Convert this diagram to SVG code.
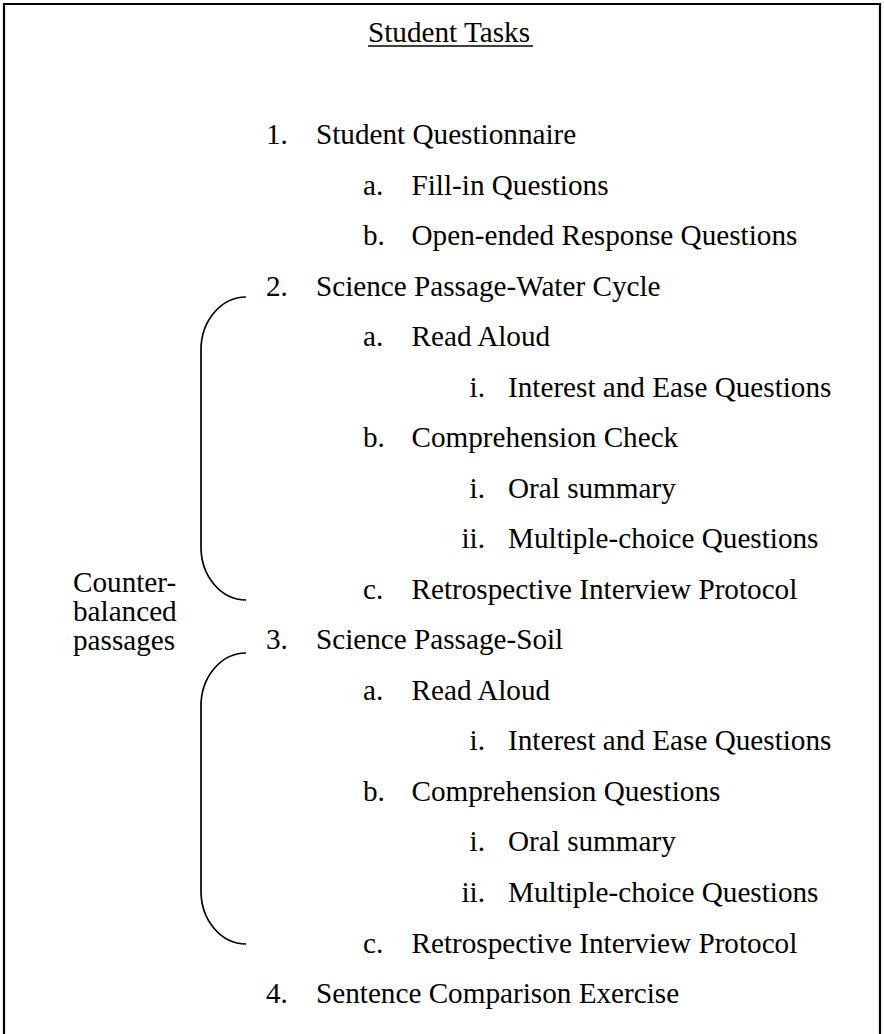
<svg xmlns="http://www.w3.org/2000/svg" width="884" height="1034" viewBox="0 0 884 1034">
<style>
text{font-family:"Liberation Serif","Times New Roman",serif;font-size:29.2px;fill:#000}
.r{text-anchor:end}
.br{fill:none;stroke:#000;stroke-width:1.7}
</style>
<rect width="884" height="1034" fill="#fff"/>
<path d="M4,1034 V4 H880 V1034" fill="none" stroke="#000" stroke-width="2.2"/>
<g id="title">
<text x="368" y="42">Student Tasks</text>
<line x1="368" y1="46" x2="533" y2="46" stroke="#000" stroke-width="1.6"/>
</g>
<g id="item1"><text x="266" y="144">1.</text><text x="316" y="144">Student Questionnaire</text></g>
<g id="item1a"><text x="363" y="194.5">a.</text><text x="411.5" y="194.5">Fill-in Questions</text></g>
<g id="item1b"><text x="363" y="245">b.</text><text x="411.5" y="245">Open-ended Response Questions</text></g>
<g id="item2"><text x="266" y="295.6">2.</text><text x="316" y="295.6">Science Passage-Water Cycle</text></g>
<g id="item2a"><text x="363" y="346.1">a.</text><text x="411.5" y="346.1">Read Aloud</text></g>
<g id="item2ai"><text class="r" x="485" y="396.7">i.</text><text x="508" y="396.7">Interest and Ease Questions</text></g>
<g id="item2b"><text x="363" y="447.2">b.</text><text x="411.5" y="447.2">Comprehension Check</text></g>
<g id="item2bi"><text class="r" x="485" y="497.7">i.</text><text x="508" y="497.7">Oral summary</text></g>
<g id="item2bii"><text class="r" x="485" y="548.2">ii.</text><text x="508" y="548.2">Multiple-choice Questions</text></g>
<g id="item2c"><text x="363" y="598.8">c.</text><text x="411.5" y="598.8">Retrospective Interview Protocol</text></g>
<g id="item3"><text x="266" y="649.3">3.</text><text x="316" y="649.3">Science Passage-Soil</text></g>
<g id="item3a"><text x="363" y="699.8">a.</text><text x="411.5" y="699.8">Read Aloud</text></g>
<g id="item3ai"><text class="r" x="485" y="750.4">i.</text><text x="508" y="750.4">Interest and Ease Questions</text></g>
<g id="item3b"><text x="363" y="800.9">b.</text><text x="411.5" y="800.9">Comprehension Questions</text></g>
<g id="item3bi"><text class="r" x="485" y="851.4">i.</text><text x="508" y="851.4">Oral summary</text></g>
<g id="item3bii"><text class="r" x="485" y="901.9">ii.</text><text x="508" y="901.9">Multiple-choice Questions</text></g>
<g id="item3c"><text x="363" y="952.5">c.</text><text x="411.5" y="952.5">Retrospective Interview Protocol</text></g>
<g id="item4"><text x="266" y="1003">4.</text><text x="316" y="1003">Sentence Comparison Exercise</text></g>
<g id="label">
<text x="73" y="592">Counter-</text>
<text x="73" y="621">balanced</text>
<text x="73" y="650">passages</text>
</g>
<g id="connectors">
<path class="br" d="M246,297 A45 53 0 0 0 201,350 L201,547 A45 53 0 0 0 246,600"/>
<path class="br" d="M246,653 A45 53 0 0 0 201,706 L201,891 A45 53 0 0 0 246,944"/>
</g>
</svg>
